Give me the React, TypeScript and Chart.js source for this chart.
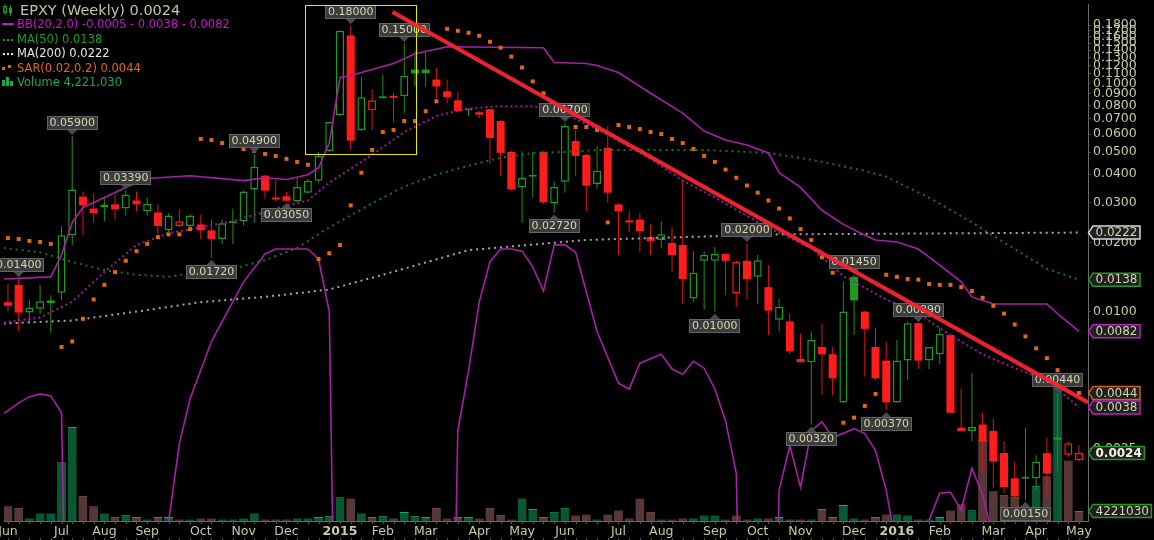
import React, { useEffect, useRef } from "react";
import { Chart, registerables } from "chart.js";

Chart.register(...registerables);
Chart.defaults.font.family = "'DejaVu Sans', sans-serif";

const WIDTH = 1154;
const HEIGHT = 540;

// ---------- DATA (week 0 = week of 2 Jun 2014, week 100 = week of 2 May 2016) ----------
const opens = [0.0110,0.0131,0.0099,0.0103,0.0109,0.0121,0.0216,0.0319,0.0283,0.0286,
0.0295,0.0283,0.0307,0.0275,0.0272,0.0227,0.0237,0.0237,0.0241,0.0227,
0.0208,0.0244,0.0249,0.0343,0.0394,0.0315,0.0320,0.0304,0.0332,0.0374,
0.0506,0.0726,0.1620,0.0625,0.0763,0.0860,0.0880,0.0878,0.1150,0.1150,
0.1040,0.0923,0.0843,0.0760,0.0748,0.0771,0.0684,0.0501,0.0350,0.0390,
0.0501,0.0298,0.0371,0.0559,0.0486,0.0362,0.0522,0.0295,0.0251,0.0253,
0.0212,0.0206,0.0200,0.0196,0.0114,0.0167,0.0167,0.0179,0.0120,0.0167,
0.0142,0.0128,0.0092,0.00905,0.0062,0.0060,0.0070,0.0065,0.0040,0.0142,
0.0100,0.0070,0.0061,0.0040,0.0061,0.0089,0.0061,0.0065,0.0079,0.0031,
0.0030,0.0032,0.0030,0.0024,0.00186,0.00185,0.00186,0.0024,0.0028,0.00236,
0.00223];
const highs = [0.0132,0.0140,0.0113,0.0131,0.0118,0.0237,0.0590,0.0336,0.0329,0.0319,
0.0326,0.0339,0.0336,0.0316,0.0295,0.0270,0.0281,0.0267,0.0267,0.0253,
0.0253,0.0283,0.0339,0.0490,0.0398,0.0378,0.0336,0.0385,0.0381,0.0500,
0.0680,0.1710,0.1800,0.1070,0.0940,0.1090,0.0915,0.1500,0.1390,0.1390,
0.1170,0.1040,0.0920,0.0770,0.0756,0.0775,0.0690,0.0505,0.0506,0.0501,
0.0505,0.0371,0.0670,0.0625,0.0490,0.0532,0.0650,0.0300,0.0278,0.0270,
0.0242,0.0249,0.0235,0.0378,0.0184,0.0184,0.0192,0.0180,0.0168,0.0200,
0.0177,0.0160,0.0114,0.0098,0.0080,0.0082,0.0088,0.0070,0.0135,0.0145,
0.0101,0.0085,0.0074,0.0075,0.0090,0.0089,0.0070,0.0085,0.0080,0.0046,
0.0054,0.0036,0.0034,0.0027,0.0022,0.0031,0.00235,0.0028,0.0044,0.0027,
0.0026];
const lows = [0.0100,0.0082,0.0089,0.0097,0.0081,0.0112,0.0196,0.0216,0.0246,0.0249,
0.0253,0.0264,0.0275,0.0264,0.0218,0.0223,0.0235,0.0225,0.0208,0.0172,
0.0198,0.0198,0.0237,0.0246,0.0313,0.0304,0.0305,0.0303,0.0329,0.0367,
0.0500,0.0719,0.0511,0.0620,0.0625,0.0860,0.0677,0.0740,0.0970,0.0970,
0.0860,0.0818,0.0748,0.0720,0.0705,0.0445,0.0394,0.0339,0.0246,0.0316,
0.0297,0.0272,0.0332,0.0394,0.0275,0.0345,0.0301,0.0177,0.0223,0.0182,
0.0177,0.0189,0.0149,0.0108,0.0110,0.0102,0.0100,0.0118,0.0105,0.0112,
0.0108,0.0079,0.0082,0.0065,0.0060,0.0032,0.0043,0.0043,0.0040,0.0079,
0.0052,0.0050,0.0037,0.0040,0.0050,0.0056,0.0056,0.0059,0.0036,0.0030,
0.0027,0.0020,0.0017,0.0016,0.00152,0.0015,0.00165,0.00154,0.0020,0.0023,
0.0022];
const closes = [0.0106,0.0099,0.0104,0.0111,0.0112,0.0216,0.0343,0.0292,0.0270,0.0295,
0.0281,0.0326,0.0295,0.0297,0.0237,0.0264,0.0249,0.0264,0.0227,0.0208,
0.0244,0.0247,0.0336,0.0431,0.0339,0.0310,0.0306,0.0352,0.0374,0.0482,
0.0677,0.1700,0.0560,0.0869,0.0843,0.0875,0.0865,0.1080,0.1105,0.1110,
0.0970,0.0869,0.0756,0.0765,0.0729,0.0576,0.0496,0.0343,0.0385,0.0394,
0.0301,0.0352,0.0650,0.0481,0.0356,0.0414,0.0332,0.0275,0.0246,0.0225,
0.0204,0.0218,0.0177,0.0139,0.0148,0.0177,0.0179,0.0167,0.0165,0.0139,
0.0168,0.0101,0.0105,0.0067,0.0060,0.0075,0.0065,0.0051,0.0100,0.0112,
0.0084,0.0051,0.0040,0.0061,0.0089,0.0061,0.0070,0.0080,0.0036,0.0030,
0.00312,0.0027,0.0022,0.0017,0.00155,0.00188,0.0022,0.00195,0.00275,0.00265,
0.0024];
// weekly volume, millions of shares
const volumesM = [6.3,5.6,1.1,3.2,3.2,25,40,10.7,6.3,3.2,
1.8,2.7,1.7,0.6,1.7,1.7,0.6,0.6,1.1,1.1,
0.6,0.6,1.1,3.2,0.6,0.6,0.6,1.1,1.1,1.7,
2.2,10.1,9.6,3.2,1.7,2.2,1.1,3.8,2.2,1.7,
5.6,1.1,1.7,1.7,1.1,5.6,2.7,0.6,9.6,5.1,
1.7,3.9,5.6,2.3,2.8,0.6,2.8,4.5,1.1,9.6,
3.9,0.6,0.6,1.1,1.1,2.3,2.3,0.6,2.3,0.6,
1.1,1.1,1.7,0.6,0.6,0.6,5.1,1.7,6.8,1.1,
0.6,1.7,2.8,2.8,2.3,0.6,0.6,1.7,4.5,7.1,
4.6,34.5,12.7,11.2,10.3,3.0,15,19,58,25.7,
4.22103];
const sarValues = [0.0210,0.0208,0.0204,0.0202,0.0198,0.0070,0.0074,0.0093,0.0113,0.0131,
0.0149,0.0167,0.0184,0.0198,0.0212,0.0218,0.0218,0.0230,0.0571,0.0565,
0.0548,0.0532,0.0516,0.0506,0.0491,0.0481,0.0467,0.0453,0.0440,0.0170,
0.0180,0.0196,0.0292,0.0406,0.0511,0.0612,0.0625,0.0684,0.0684,0.0755,
0.0835,0.1734,0.1700,0.1666,0.1617,0.1522,0.1434,0.1310,0.1174,0.1020,
0.0905,0.0818,0.0726,0.0644,0.0644,0.0625,0.0246,0.0657,0.0644,0.0631,
0.0612,0.0600,0.0571,0.0548,0.0516,0.0481,0.0453,0.0419,0.0386,0.0357,
0.0332,0.0307,0.0283,0.0256,0.0230,0.0206,0.0173,0.0148,0.00326,0.00343,
0.00386,0.00436,0.0145,0.0142,0.0139,0.0138,0.0132,0.0131,0.0131,0.0128,
0.0123,0.0115,0.0106,0.0098,0.00878,0.00779,0.00690,0.00625,0.00554,0.00501,
0.0044];

const bbUpperWeeks = [-0.4,4,5,6,7,9,11,13,17,22,24,26,28,29,30,31,32,36,38,41,50,51,54,55,57,60,63,65,67,69,71,72,74,76,78,80,81,83,85,87,89,90,92,97,98,100];
const bbUpperValues = [0.0139,0.0142,0.0177,0.0246,0.0286,0.0316,0.0350,0.0383,0.0394,0.0375,0.0386,0.0379,0.0398,0.0427,0.0548,0.1062,0.1083,0.1222,0.1350,0.1448,0.1434,0.1234,0.1222,0.1198,0.1116,0.0905,0.0741,0.0618,0.0565,0.0537,0.0496,0.0406,0.0350,0.0278,0.0241,0.0216,0.0206,0.0202,0.0188,0.0160,0.0135,0.0116,0.0108,0.0108,0.0098,0.0082];

const bbMiddleWeeks = [-0.4,3,6,9,12,15,18,21,25,28,30,31,34,37,40,43,46,49,52,55,60,63,66,69,72,75,78,82,85,88,91,94,97,100];
const bbMiddleValues = [0.00896,0.00942,0.01105,0.0149,0.0196,0.0221,0.0234,0.0249,0.0283,0.0307,0.0367,0.0394,0.0486,0.0612,0.0719,0.0778,0.0794,0.0794,0.0733,0.0631,0.0467,0.0375,0.0316,0.0262,0.0221,0.0190,0.0143,0.0113,0.0098,0.00787,0.00650,0.00565,0.00501,0.0038];

// lower band: null where the band is negative (cannot be shown on the log scale)
const bbLowerWeeks = [-0.4,1,2,3,4,5,6,7,
14,15,16,17,19,22,24,25,28,29,30,31,32,
40,41,42,43,44,45,46,47,48,49,50,51,52,53,55,57,58,59,61,62,63,64,65,66,67,68,69,70,
71,72,73,74,75,76,77,79,80,81,82,83,84,
85,86,87,88,89,90,91,92,93];
const bbLowerValues = [0.00357,0.00398,0.00423,0.00436,0.00427,0.00360,0.00001,null,
null,0.00120,0.00264,0.00414,0.00741,0.0135,0.0179,0.0188,0.0188,0.0170,0.0100,0.00001,null,
null,0.00001,0.00301,0.00548,0.0110,0.0165,0.0188,0.0188,0.0184,0.0157,0.0123,0.0196,0.0196,0.0182,0.00818,0.00486,0.00458,0.00594,0.00650,0.00560,0.00532,0.00606,0.00565,0.00458,0.00332,0.00196,0.00001,null,
0.00001,0.00165,0.00259,0.00170,0.00301,0.00329,0.00280,0.00307,0.00292,0.00246,0.00165,0.0009,null,
null,0.00122,0.00160,0.00162,0.00135,0.00206,0.00158,0.0010,null];

const ma50Weeks = [-0.4,3,6,9,12,15,18,21,24,27,30,34,37,40,43,46,49,52,55,65,71,75,80,82,86,90,94,97,100];
const ma50Values = [0.0190,0.0182,0.0165,0.0152,0.0145,0.0142,0.0149,0.0154,0.0168,0.0190,0.0234,0.0298,0.0353,0.0398,0.0436,0.0472,0.0496,0.0501,0.0511,0.0511,0.0496,0.0463,0.0414,0.0390,0.0316,0.0246,0.0188,0.0154,0.0138];

const ma200Weeks = [-0.4,6,12,18,24,30,35,43,54,63,72,100];
const ma200Values = [0.00887,0.00914,0.0100,0.0110,0.0116,0.0125,0.0145,0.0186,0.0206,0.0212,0.0218,0.0222];

const monthTickWeeks = [0,5,9,13,18,22,26,31,35,39,44,48,52,57,61,66,70,74,79,83,87,92,96,100];
const monthTickLabels = ["Jun","Jul","Aug","Sep","Oct","Nov","Dec","2015","Feb","Mar","Apr","May","Jun","Jul","Aug","Sep","Oct","Nov","Dec","2016","Feb","Mar","Apr","May"];
const priceTickValues = [0.0025,0.01,0.02,0.03,0.04,0.05,0.06,0.07,0.08,0.09,0.1,0.11,0.12,0.13,0.14,0.15,0.16,0.17,0.18];

const highLabelWeeks = [1,6,11,23,32,37,52,69,79,85,98];
const lowLabelWeeks = [19,26,51,66,75,82,95];

const trendWeeks = [35.9, 100.84];
const trendValues = [0.2056, 0.0040];
const boxWeeks = [27.7, 38.1];
const boxValues = [0.0491, 0.2205];

const legendTexts = [
  "EPXY (Weekly) 0.0024",
  "BB(20,2.0) -0.0005 - 0.0038 - 0.0082",
  "MA(50) 0.0138",
  "MA(200) 0.0222",
  "SAR(0.02,0.2) 0.0044",
  "Volume 4,221,030",
];
const tagValues = [0.0222, 0.0138, 0.0082, 0.0044, 0.0038, 0.0024];
const volumeTagValue = 4.22103;
const volumeTagText = "4221030";

// ---------- STYLES ----------
const GREEN = "#1f9c1f";
const RED = "#ff1c1c";
const KHAKI = "#cacaa4";
const MAGENTA = "#a81fa8";
const tagColors = ["#d8d8d8", "#1f9c1f", "#c020c0", "#cc6414", "#c020c0", "#1f9c1f"];

const overlayPlugin = {
  id: "overlay",
  afterDatasetsDraw(chart: any) {
    const { ctx, chartArea, scales } = chart;
    const xs = scales.x;
    const ys = scales.y;
    ctx.save();
    ctx.font = "11px 'DejaVu Sans'";
    ctx.textAlign = "center";
    ctx.textBaseline = "middle";
    const drawLabel = (week: number, value: number, above: boolean) => {
      const px = xs.getPixelForValue(week);
      const py = ys.getPixelForValue(value);
      const text = value.toFixed(5);
      const w = Math.round(ctx.measureText(text).width + 6);
      const h = 14;
      const tip = above ? py - 1 : py + 2;
      const boxY = Math.round(above ? tip - 5 - h : tip + 5);
      const bx = Math.round(px - w / 2);
      ctx.beginPath();
      if (above) {
        ctx.moveTo(px - 5, boxY + h);
        ctx.lineTo(px + 5, boxY + h);
        ctx.lineTo(px, tip);
      } else {
        ctx.moveTo(px - 5, boxY);
        ctx.lineTo(px + 5, boxY);
        ctx.lineTo(px, tip);
      }
      ctx.closePath();
      ctx.fillStyle = "#4a4a4a";
      ctx.fill();
      ctx.fillStyle = "rgba(62,62,62,0.95)";
      ctx.fillRect(bx, boxY, w, h);
      ctx.strokeStyle = "#646464";
      ctx.lineWidth = 1;
      ctx.strokeRect(bx + 0.5, boxY + 0.5, w - 1, h - 1);
      ctx.fillStyle = "#d6d6b2";
      ctx.fillText(text, px, boxY + h / 2 + 0.5);
    };
    highLabelWeeks.forEach((w) => drawLabel(w, highs[w], true));
    lowLabelWeeks.forEach((w) => drawLabel(w, lows[w], false));

    // yellow highlight box
    const bx1 = xs.getPixelForValue(boxWeeks[0]);
    const bx2 = xs.getPixelForValue(boxWeeks[1]);
    const by1 = ys.getPixelForValue(boxValues[1]);
    const by2 = ys.getPixelForValue(boxValues[0]);
    ctx.strokeStyle = "#e8e800";
    ctx.lineWidth = 1;
    ctx.strokeRect(Math.round(bx1) + 0.5, Math.round(by1) + 0.5, Math.round(bx2 - bx1), Math.round(by2 - by1));

    // red trend line
    ctx.save();
    ctx.beginPath();
    ctx.rect(chartArea.left, chartArea.top, chartArea.right - chartArea.left, chartArea.bottom - chartArea.top);
    ctx.clip();
    ctx.beginPath();
    ctx.moveTo(xs.getPixelForValue(trendWeeks[0]), ys.getPixelForValue(trendValues[0]));
    ctx.lineTo(xs.getPixelForValue(trendWeeks[1]), ys.getPixelForValue(trendValues[1]));
    ctx.strokeStyle = "rgba(244,36,48,0.97)";
    ctx.lineWidth = 4;
    ctx.stroke();
    ctx.restore();
    ctx.restore();
  },
  afterDraw(chart: any) {
    const { ctx, chartArea, scales } = chart;
    const xs = scales.x;
    const ys = scales.y;
    ctx.save();
    // weekly tick marks on the time axis
    ctx.strokeStyle = "#5a5a5a";
    ctx.lineWidth = 1;
    for (let i = 0; i < closes.length; i++) {
      const x = Math.round(xs.getPixelForValue(i)) + 0.5;
      ctx.beginPath();
      ctx.moveTo(x, chartArea.bottom);
      ctx.lineTo(x, chartArea.bottom + 3);
      ctx.moveTo(x, HEIGHT - 2);
      ctx.lineTo(x, HEIGHT);
      ctx.stroke();
    }

    // legend
    ctx.textAlign = "left";
    ctx.textBaseline = "middle";
    const rows = [10, 24, 39, 53, 68, 82];
    ctx.strokeStyle = GREEN;
    ctx.fillStyle = GREEN;
    ctx.lineWidth = 1;
    ctx.strokeRect(3.5, 6.5, 3, 6);
    ctx.beginPath(); ctx.moveTo(5, 4); ctx.lineTo(5, 15); ctx.stroke();
    ctx.fillRect(9, 8, 3, 5);
    ctx.beginPath(); ctx.moveTo(10.5, 5); ctx.lineTo(10.5, 16); ctx.stroke();
    ctx.font = "14.5px 'DejaVu Sans'";
    ctx.fillStyle = "#c4c4a0";
    ctx.fillText(legendTexts[0], 20, rows[0] + 1);

    ctx.font = "11.5px 'DejaVu Sans'";
    ctx.fillStyle = "#c814c8";
    ctx.fillRect(2, rows[1] - 1, 12, 2);
    ctx.fillText(legendTexts[1], 17, rows[1] + 1);
    ctx.fillStyle = "#1e9e1e";
    [3, 7, 11].forEach((x) => ctx.fillRect(x, rows[2], 2, 2));
    ctx.fillText(legendTexts[2], 17, rows[2] + 1);
    ctx.fillStyle = "#e6e6e6";
    [3, 7, 11].forEach((x) => ctx.fillRect(x, rows[3], 2, 2));
    ctx.fillText(legendTexts[3], 17, rows[3] + 1);
    ctx.fillStyle = "#e0680c";
    ctx.fillRect(2, rows[4] - 1, 3, 3);
    ctx.fillRect(8, rows[4] - 3, 3, 3);
    ctx.fillText(legendTexts[4], 17, rows[4] + 1);
    ctx.fillStyle = "#1ea856";
    ctx.fillRect(2, rows[5] - 2, 3, 6);
    ctx.fillRect(6, rows[5] - 5, 3, 9);
    ctx.fillRect(10, rows[5] - 1, 3, 5);
    ctx.fillText(legendTexts[5], 17, rows[5] + 1);

    // right-axis value tags
    const drawTag = (py: number, text: string, color: string, strong: boolean) => {
      ctx.font = `${strong ? "bold " : ""}12px 'DejaVu Sans'`;
      const tw = ctx.measureText(text).width;
      const left = chartArea.right + 5;
      const right = left + tw + 5;
      const h = 13;
      ctx.beginPath();
      ctx.moveTo(chartArea.right + 0.5, py);
      ctx.lineTo(left, py - h / 2);
      ctx.lineTo(right, py - h / 2);
      ctx.lineTo(right, py + h / 2);
      ctx.lineTo(left, py + h / 2);
      ctx.closePath();
      ctx.fillStyle = "#202020";
      ctx.fill();
      ctx.strokeStyle = color;
      ctx.lineWidth = 1.5;
      ctx.stroke();
      ctx.fillStyle = strong ? "#f2f2e4" : "#d4d4b2";
      ctx.textAlign = "left";
      ctx.textBaseline = "middle";
      ctx.fillText(text, left + 2.5, py + 0.5);
    };
    tagValues.forEach((v, k) => drawTag(ys.getPixelForValue(v), v.toFixed(4), tagColors[k], k === 5));
    drawTag(scales.yv.getPixelForValue(volumeTagValue), volumeTagText, GREEN, false);
    ctx.restore();
  },
};

export default function App() {
  const canvasRef = useRef<HTMLCanvasElement | null>(null);

  useEffect(() => {
    document.body.style.margin = "0";
    document.body.style.background = "#000";
    const canvas = canvasRef.current;
    if (!canvas) return;

    const up = closes.map((c, i) => c >= (i === 0 ? opens[0] : closes[i - 1]));
    const hollow = closes.map((c, i) => c > opens[i]);
    const candleColor = up.map((u) => (u ? GREEN : RED));
    const wickColor = up.map((u) => (u ? "#1b931b" : "#dc1818"));

    const lineData = (weeks: number[], values: (number | null)[]) =>
      weeks.map((w, k) => ({ x: w, y: values[k] }));

    const chart = new Chart(canvas, {
      type: "bar",
      data: {
        datasets: [
          {
            type: "line",
            label: "SAR",
            data: sarValues.map((v, i) => ({ x: i, y: v })),
            showLine: false,
            pointStyle: "rect",
            pointRadius: 2.8,
            pointBackgroundColor: "#e2680e",
            pointBorderWidth: 0,
            yAxisID: "y",
            order: 1,
          } as any,
          {
            type: "line",
            label: "BB upper",
            data: lineData(bbUpperWeeks, bbUpperValues),
            borderColor: MAGENTA,
            borderWidth: 1.6,
            pointRadius: 0,
            tension: 0,
            yAxisID: "y",
            order: 2,
          } as any,
          {
            type: "line",
            label: "BB lower",
            data: lineData(bbLowerWeeks, bbLowerValues),
            borderColor: MAGENTA,
            borderWidth: 1.6,
            pointRadius: 0,
            tension: 0,
            spanGaps: false,
            yAxisID: "y",
            order: 2,
          } as any,
          {
            type: "line",
            label: "BB middle",
            data: lineData(bbMiddleWeeks, bbMiddleValues),
            borderColor: "#a018a0",
            borderWidth: 2,
            borderDash: [2, 3],
            pointRadius: 0,
            tension: 0,
            yAxisID: "y",
            order: 3,
          } as any,
          {
            type: "line",
            label: "MA50",
            data: lineData(ma50Weeks, ma50Values),
            borderColor: "#157a15",
            borderWidth: 2,
            borderDash: [2, 4],
            pointRadius: 0,
            tension: 0,
            yAxisID: "y",
            order: 3,
          } as any,
          {
            type: "line",
            label: "MA200",
            data: lineData(ma200Weeks, ma200Values),
            borderColor: "#a6a6a6",
            borderWidth: 2,
            borderDash: [2, 4],
            pointRadius: 0,
            tension: 0,
            yAxisID: "y",
            order: 3,
          } as any,
          {
            type: "bar",
            label: "Body",
            data: opens.map((o, i) => ({ x: i, y: [Math.min(o, closes[i]), Math.max(o, closes[i])] })),
            backgroundColor: hollow.map((h, i) => (h ? "#000000" : candleColor[i])),
            borderColor: candleColor,
            borderWidth: hollow.map((h) => (h ? 1.5 : 0)),
            borderSkipped: false,
            barThickness: 8,
            minBarLength: 2,
            grouped: false,
            inflateAmount: 0,
            yAxisID: "y",
            order: 5,
          } as any,
          {
            type: "bar",
            label: "Wick",
            data: lows.map((l, i) => ({ x: i, y: [l, highs[i]] })),
            backgroundColor: wickColor,
            borderWidth: 0,
            barThickness: 1,
            grouped: false,
            inflateAmount: 0,
            yAxisID: "y",
            order: 6,
          } as any,
          {
            type: "bar",
            label: "Volume",
            data: volumesM.map((v, i) => ({ x: i, y: v })),
            backgroundColor: up.map((u) => (u ? "rgba(10,98,54,0.9)" : "rgba(96,62,62,0.9)")),
            borderColor: up.map((u) => (u ? "#22a25a" : "#8c5c5c")),
            borderWidth: { top: 1, left: 0, right: 0, bottom: 0 },
            borderSkipped: false,
            barThickness: 9,
            grouped: false,
            inflateAmount: 0,
            yAxisID: "yv",
            order: 10,
          } as any,
        ],
      },
      options: {
        responsive: false,
        animation: false,
        devicePixelRatio: 1,
        events: [],
        layout: { padding: 0 },
        plugins: {
          legend: { display: false },
          tooltip: { enabled: false },
        },
        scales: {
          x: {
            type: "linear",
            position: "bottom",
            offset: false,
            min: -0.37,
            max: 100.84,
            grid: { display: false, drawTicks: false, offset: false },
            border: { display: true, color: "#6a6a6a", width: 1 },
            afterBuildTicks: (scale: any) => {
              scale.ticks = monthTickWeeks.map((w) => ({ value: w }));
            },
            afterFit: (scale: any) => {
              scale.height = 19;
              scale.paddingLeft = 0;
              scale.paddingRight = 0;
            },
            ticks: {
              autoSkip: false,
              maxRotation: 0,
              minRotation: 0,
              padding: 3,
              color: KHAKI,
              font: (ctx: any) => ({
                family: "'DejaVu Sans'",
                size: 12.5,
                weight: monthTickLabels[ctx.index] && monthTickLabels[ctx.index].startsWith("20") ? "bold" : "normal",
              }),
              callback: (_v: any, index: number) => monthTickLabels[index],
            },
          },
          y: {
            type: "logarithmic",
            position: "right",
            min: 0.001209,
            max: 0.2228,
            grid: { display: true, drawOnChartArea: false, drawTicks: true, tickLength: 3, color: "#4a4a4a" },
            border: { display: true, color: "#6a6a6a", width: 1 },
            afterBuildTicks: (scale: any) => {
              scale.ticks = priceTickValues.map((v) => ({ value: v }));
            },
            afterFit: (scale: any) => {
              scale.width = 66;
              scale.paddingTop = 0;
              scale.paddingBottom = 0;
            },
            ticks: {
              autoSkip: false,
              padding: 2,
              color: KHAKI,
              font: { family: "'DejaVu Sans'", size: 12.5 },
              callback: (v: any) => Number(v).toFixed(4),
            },
          },
          yv: {
            type: "linear",
            display: false,
            min: 0,
            max: 220,
          },
        },
      } as any,
      plugins: [overlayPlugin],
    });

    return () => chart.destroy();
  }, []);

  return (
    <div style={{ width: WIDTH, height: HEIGHT, background: "#000" }}>
      <canvas ref={canvasRef} width={WIDTH} height={HEIGHT} style={{ display: "block" }} />
    </div>
  );
}
